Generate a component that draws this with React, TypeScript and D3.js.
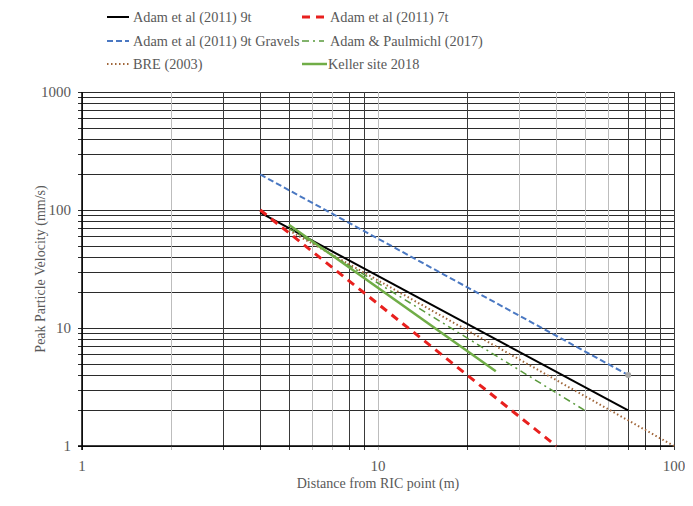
import { useRef, useEffect } from "react";
import * as d3 from "d3";

// distances (m) and peak particle velocities (mm/s)
const adam9tDist = [4, 70];
const adam9tPpv = [95, 2];
const adam7tDist = [4, 40];
const adam7tPpv = [100, 1];
const gravelsDist = [4, 70];
const gravelsPpv = [200, 4];
const paulmichlDist = [5, 50];
const paulmichlPpv = [70, 2];
const breDist = [5, 100];
const brePpv = [67, 1];
const kellerDist = [5, 25];
const kellerPpv = [75, 4.3];

const xGridValues = [1, 2, 3, 4, 5, 6, 7, 8, 9, 10, 20, 30, 40, 50, 60, 70, 80, 90, 100];
const yGridValues = [
  1, 2, 3, 4, 5, 6, 7, 8, 9, 10, 20, 30, 40, 50, 60, 70, 80, 90, 100, 200, 300, 400, 500, 600,
  700, 800, 900, 1000,
];
const lightXGrid = [2, 6, 7, 10, 30, 40, 50, 60];
const xTickLabels = [1, 10, 100];
const yTickLabels = [1, 10, 100, 1000];

const series = [
  { name: "Adam et al (2011) 9t", dist: adam9tDist, ppv: adam9tPpv, color: "#000000", width: 2, dash: null },
  { name: "Adam et al (2011) 7t", dist: adam7tDist, ppv: adam7tPpv, color: "#e8201e", width: 3, dash: "8,6" },
  { name: "Adam et al (2011) 9t Gravels", dist: gravelsDist, ppv: gravelsPpv, color: "#4a78c2", width: 2, dash: "6,3" },
  { name: "Adam & Paulmichl (2017)", dist: paulmichlDist, ppv: paulmichlPpv, color: "#5a9a3c", width: 1.5, dash: "7,4,2,4" },
  { name: "BRE (2003)", dist: breDist, ppv: brePpv, color: "#a0663a", width: 2, dash: "1.5,2.5" },
  { name: "Keller site 2018", dist: kellerDist, ppv: kellerPpv, color: "#70ad47", width: 2.5, dash: null },
];

const App = () => {
  const svgRef = useRef<SVGSVGElement>(null);

  useEffect(() => {
    const svg = d3.select(svgRef.current);
    svg.selectAll("*").remove();

    const width = 693;
    const height = 506;
    const margin = { top: 92, right: 19, bottom: 60, left: 82 };
    const font = "'Liberation Serif', 'Times New Roman', serif";
    const textColor = "#595959";

    const x = d3.scaleLog().domain([1, 100]).range([margin.left, width - margin.right]);
    const y = d3.scaleLog().domain([1, 1000]).range([height - margin.bottom, margin.top]);

    svg.append("rect").attr("x", 0).attr("y", 0).attr("width", width).attr("height", height).attr("fill", "#fff");
    svg
      .append("rect")
      .attr("x", 5.5)
      .attr("y", 4.5)
      .attr("width", 681)
      .attr("height", 498)
      .attr("fill", "none")
      .attr("stroke", "#d9d9d9");

    // gridlines
    svg
      .append("g")
      .selectAll("line")
      .data(yGridValues)
      .join("line")
      .attr("x1", x(1) - 4)
      .attr("x2", x(100))
      .attr("y1", (d) => Math.round(y(d)) + 0.5)
      .attr("y2", (d) => Math.round(y(d)) + 0.5)
      .attr("stroke", "#2b2b2b")
      .attr("stroke-width", 1);

    svg
      .append("g")
      .selectAll("line")
      .data(xGridValues)
      .join("line")
      .attr("x1", (d) => Math.round(x(d)) + 0.5)
      .attr("x2", (d) => Math.round(x(d)) + 0.5)
      .attr("y1", y(1000))
      .attr("y2", y(1) + 4)
      .attr("stroke", (d) => (lightXGrid.includes(d) ? "#bdbdbd" : "#3a3a3a"))
      .attr("stroke-width", 1);

    // axes
    svg
      .append("line")
      .attr("x1", x(1))
      .attr("x2", x(1))
      .attr("y1", y(1000))
      .attr("y2", y(1) + 4)
      .attr("stroke", "#000")
      .attr("stroke-width", 1.5);
    svg
      .append("line")
      .attr("x1", x(1) - 4)
      .attr("x2", x(100))
      .attr("y1", y(1))
      .attr("y2", y(1))
      .attr("stroke", "#000")
      .attr("stroke-width", 1.5);

    // tick labels
    svg
      .append("g")
      .selectAll("text")
      .data(yTickLabels)
      .join("text")
      .attr("x", x(1) - 11)
      .attr("y", (d) => y(d) + 5)
      .attr("text-anchor", "end")
      .attr("font-family", font)
      .attr("font-size", 15)
      .attr("fill", textColor)
      .text((d) => d);

    svg
      .append("g")
      .selectAll("text")
      .data(xTickLabels)
      .join("text")
      .attr("x", (d) => x(d))
      .attr("y", y(1) + 25)
      .attr("text-anchor", "middle")
      .attr("font-family", font)
      .attr("font-size", 15)
      .attr("fill", textColor)
      .text((d) => d);

    // axis titles
    svg
      .append("text")
      .attr("x", (x(1) + x(100)) / 2)
      .attr("y", y(1) + 42)
      .attr("text-anchor", "middle")
      .attr("font-family", font)
      .attr("font-size", 14)
      .attr("fill", textColor)
      .text("Distance from RIC point (m)");

    svg
      .append("text")
      .attr("transform", `translate(45,${(y(1) + y(1000)) / 2}) rotate(-90)`)
      .attr("text-anchor", "middle")
      .attr("font-family", font)
      .attr("font-size", 14)
      .attr("fill", textColor)
      .text("Peak Particle Velocity (mm/s)");

    // series
    const line = d3
      .line<[number, number]>()
      .x((d) => x(d[0]))
      .y((d) => y(d[1]));

    series.forEach((s) => {
      const pts = s.dist.map((d, i) => [d, s.ppv[i]] as [number, number]);
      svg
        .append("path")
        .attr("d", line(pts))
        .attr("fill", "none")
        .attr("stroke", s.color)
        .attr("stroke-width", s.width)
        .attr("stroke-dasharray", s.dash);
    });

    // grey end marker on the gravels line
    svg
      .append("circle")
      .attr("cx", x(gravelsDist[1]))
      .attr("cy", y(gravelsPpv[1]))
      .attr("r", 3)
      .attr("fill", "#a6a6a6");

    // legend, two columns
    const legendPos = [
      [107, 17],
      [302, 17],
      [107, 41],
      [302, 41],
      [107, 64],
      [302, 64],
    ];
    series.forEach((s, i) => {
      const [lx, ly] = legendPos[i];
      const g = svg.append("g").attr("transform", `translate(${lx},${ly})`);
      g.append("line")
        .attr("x1", 0)
        .attr("x2", i === 5 ? 25 : 22)
        .attr("y1", 0)
        .attr("y2", 0)
        .attr("stroke", s.color)
        .attr("stroke-width", s.width)
        .attr("stroke-dasharray", s.dash);
      g.append("text")
        .attr("x", i % 2 === 1 && i !== 5 ? 28 : 26)
        .attr("y", 5)
        .attr("font-family", font)
        .attr("font-size", 14.3)
        .attr("fill", textColor)
        .text(s.name);
    });
  }, []);

  return <svg ref={svgRef} width="693" height="506" style={{ display: "block", margin: "-8px" }} />;
};

export default App;
